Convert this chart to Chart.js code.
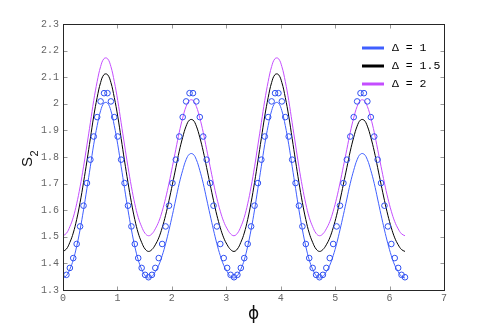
<!DOCTYPE html>
<html>
<head>
<meta charset="utf-8">
<script src="https://cdn.jsdelivr.net/npm/chart.js@4.4.0/dist/chart.umd.min.js"></script>
<style>
  html, body { margin: 0; padding: 0; background: #fff; }
  canvas { display: block; }
</style>
</head>
<body>
<canvas id="entropyChart" width="491" height="327"></canvas>
<script>
// phi grid (2*pi/100 steps)
const phi = [
  0, 0.063, 0.126, 0.188, 0.251, 0.314, 0.377, 0.440, 0.503, 0.565, 0.628, 0.691, 0.754, 0.817, 0.880, 0.942, 1.005, 1.068, 1.131, 1.194, 1.257, 1.319, 1.382, 1.445, 1.508,
  1.571, 1.634, 1.696, 1.759, 1.822, 1.885, 1.948, 2.011, 2.073, 2.136, 2.199, 2.262, 2.325, 2.388, 2.450, 2.513, 2.576, 2.639, 2.702, 2.765, 2.827, 2.890, 2.953, 3.016, 3.079,
  3.142, 3.204, 3.267, 3.330, 3.393, 3.456, 3.519, 3.581, 3.644, 3.707, 3.770, 3.833, 3.896, 3.958, 4.021, 4.084, 4.147, 4.210, 4.273, 4.335, 4.398, 4.461, 4.524, 4.587, 4.650,
  4.712, 4.775, 4.838, 4.901, 4.964, 5.027, 5.089, 5.152, 5.215, 5.278, 5.341, 5.404, 5.466, 5.529, 5.592, 5.655, 5.718, 5.781, 5.843, 5.906, 5.969, 6.032, 6.095, 6.158, 6.220,
  6.283
];

// S2 for delta = 1
const s2Delta1 = [
  1.345, 1.354, 1.378, 1.413, 1.464, 1.527, 1.601, 1.682, 1.765, 1.848, 1.918, 1.974, 2.003, 2.003, 1.974, 1.918, 1.848, 1.765, 1.682, 1.601, 1.527, 1.464, 1.413, 1.378, 1.354,
  1.345, 1.351, 1.369, 1.393, 1.429, 1.474, 1.526, 1.583, 1.642, 1.701, 1.750, 1.790, 1.811, 1.811, 1.790, 1.750, 1.701, 1.642, 1.583, 1.526, 1.474, 1.429, 1.393, 1.369, 1.351,
  1.345, 1.354, 1.378, 1.413, 1.464, 1.527, 1.601, 1.682, 1.765, 1.848, 1.918, 1.974, 2.003, 2.003, 1.974, 1.918, 1.848, 1.765, 1.682, 1.601, 1.527, 1.464, 1.413, 1.378, 1.354,
  1.345, 1.351, 1.369, 1.393, 1.429, 1.474, 1.526, 1.583, 1.642, 1.701, 1.750, 1.790, 1.811, 1.811, 1.790, 1.750, 1.701, 1.642, 1.583, 1.526, 1.474, 1.429, 1.393, 1.369, 1.351,
  1.345
];

// S2 for delta = 1.5
const s2Delta15 = [
  1.445, 1.454, 1.479, 1.514, 1.565, 1.629, 1.704, 1.785, 1.870, 1.954, 2.024, 2.080, 2.110, 2.110, 2.080, 2.024, 1.954, 1.870, 1.785, 1.704, 1.629, 1.565, 1.514, 1.479, 1.454,
  1.445, 1.452, 1.470, 1.496, 1.534, 1.581, 1.637, 1.698, 1.760, 1.822, 1.874, 1.916, 1.939, 1.939, 1.916, 1.874, 1.822, 1.760, 1.698, 1.637, 1.581, 1.534, 1.496, 1.470, 1.452,
  1.445, 1.454, 1.479, 1.514, 1.565, 1.629, 1.704, 1.785, 1.870, 1.954, 2.024, 2.080, 2.110, 2.110, 2.080, 2.024, 1.954, 1.870, 1.785, 1.704, 1.629, 1.565, 1.514, 1.479, 1.454,
  1.445, 1.452, 1.470, 1.496, 1.534, 1.581, 1.637, 1.698, 1.760, 1.822, 1.874, 1.916, 1.939, 1.939, 1.916, 1.874, 1.822, 1.760, 1.698, 1.637, 1.581, 1.534, 1.496, 1.470, 1.452,
  1.445
];

// S2 for delta = 2
const s2Delta2 = [
  1.504, 1.513, 1.538, 1.573, 1.624, 1.688, 1.763, 1.845, 1.929, 2.013, 2.084, 2.140, 2.170, 2.170, 2.140, 2.084, 2.013, 1.929, 1.845, 1.763, 1.688, 1.624, 1.573, 1.538, 1.513,
  1.504, 1.511, 1.530, 1.557, 1.596, 1.645, 1.702, 1.765, 1.829, 1.893, 1.947, 1.990, 2.013, 2.013, 1.990, 1.947, 1.893, 1.829, 1.765, 1.702, 1.645, 1.596, 1.557, 1.530, 1.511,
  1.504, 1.513, 1.538, 1.573, 1.624, 1.688, 1.763, 1.845, 1.929, 2.013, 2.084, 2.140, 2.170, 2.170, 2.140, 2.084, 2.013, 1.929, 1.845, 1.763, 1.688, 1.624, 1.573, 1.538, 1.513,
  1.504, 1.511, 1.530, 1.557, 1.596, 1.645, 1.702, 1.765, 1.829, 1.893, 1.947, 1.990, 2.013, 2.013, 1.990, 1.947, 1.893, 1.829, 1.765, 1.702, 1.645, 1.596, 1.557, 1.530, 1.511,
  1.504
];

// circle markers (no marker at phi = 0)
const s2Markers = [
  null,
  1.357, 1.383, 1.420, 1.473, 1.539, 1.617, 1.702, 1.790, 1.877, 1.950, 2.009, 2.040, 2.040, 2.009, 1.950, 1.877, 1.790, 1.702, 1.617, 1.539, 1.473, 1.420, 1.383, 1.357, 1.348,
  1.357, 1.383, 1.420, 1.473, 1.539, 1.617, 1.702, 1.790, 1.877, 1.950, 2.009, 2.040, 2.040, 2.009, 1.950, 1.877, 1.790, 1.702, 1.617, 1.539, 1.473, 1.420, 1.383, 1.357, 1.348,
  1.357, 1.383, 1.420, 1.473, 1.539, 1.617, 1.702, 1.790, 1.877, 1.950, 2.009, 2.040, 2.040, 2.009, 1.950, 1.877, 1.790, 1.702, 1.617, 1.539, 1.473, 1.420, 1.383, 1.357, 1.348,
  1.357, 1.383, 1.420, 1.473, 1.539, 1.617, 1.702, 1.790, 1.877, 1.950, 2.009, 2.040, 2.040, 2.009, 1.950, 1.877, 1.790, 1.702, 1.617, 1.539, 1.473, 1.420, 1.383, 1.357, 1.348
];

const legendLabels = ['\u0394 = 1', '\u0394 = 1.5', '\u0394 = 2'];
const xTickValues = [0, 1, 2, 3, 4, 5, 6, 7];
const yTickValues = [1.3, 1.4, 1.5, 1.6, 1.7, 1.8, 1.9, 2.0, 2.1, 2.2, 2.3];
const yTickLabels = ['1.3', '1.4', '1.5', '1.6', '1.7', '1.8', '1.9', '2', '2.1', '2.2', '2.3'];

const BLUE = '#3f5fff';
const MAGENTA = '#c44dff';
const TICK_FONT = { family: '"Liberation Mono", "DejaVu Sans Mono", monospace', size: 10 };

function toPoints(ys) {
  return ys.map((y, i) => ({ x: phi[i], y: y }));
}

// box, inside ticks, legend and axis titles (matlab look)
const matlabFrame = {
  id: 'matlabFrame',
  afterDraw(chart) {
    const ctx = chart.ctx;
    const a = chart.chartArea;
    const xs = chart.scales.x, ys = chart.scales.y;
    const L = Math.round(a.left) + 0.5, R = Math.round(a.right) + 0.5;
    const T = Math.round(a.top) + 0.5, B = Math.round(a.bottom) + 0.5;
    ctx.save();

    // ticks
    ctx.strokeStyle = '#999';
    ctx.lineWidth = 1;
    ctx.beginPath();
    xTickValues.forEach(v => {
      const px = Math.round(xs.getPixelForValue(v)) + 0.5;
      ctx.moveTo(px, B); ctx.lineTo(px, B - 4);
      ctx.moveTo(px, T); ctx.lineTo(px, T + 4);
    });
    yTickValues.forEach(v => {
      const py = Math.round(ys.getPixelForValue(v)) + 0.5;
      ctx.moveTo(L, py); ctx.lineTo(L + 4, py);
      ctx.moveTo(R, py); ctx.lineTo(R - 4, py);
    });
    ctx.stroke();

    // box
    ctx.strokeStyle = '#262626';
    ctx.strokeRect(L, T, R - L, B - T);

    // legend
    const ds = chart.data.datasets.filter(d => d.showLine !== false);
    ctx.font = '11.5px "Liberation Mono", "DejaVu Sans Mono", monospace';
    ctx.textBaseline = 'middle';
    ctx.textAlign = 'left';
    ds.forEach((d, i) => {
      const y = 48 + i * 18;
      ctx.strokeStyle = d.borderColor;
      ctx.lineWidth = 3;
      ctx.beginPath();
      ctx.moveTo(362, y); ctx.lineTo(384, y);
      ctx.stroke();
      ctx.fillStyle = '#000';
      ctx.fillText(legendLabels[i], 392, y);
    });

    // x title
    ctx.fillStyle = '#111';
    ctx.textAlign = 'center';
    ctx.font = '17px "DejaVu Sans", sans-serif';
    ctx.fillText('\u03D5', 253.5, 315);

    // y title S_2
    ctx.translate(32, 167);
    ctx.rotate(-Math.PI / 2);
    ctx.textAlign = 'left';
    ctx.textBaseline = 'alphabetic';
    ctx.font = '15px "Liberation Sans", Arial, sans-serif';
    ctx.fillText('S', 0, 0);
    ctx.font = '11px "Liberation Sans", Arial, sans-serif';
    ctx.fillText('2', 10.5, 6);
    ctx.restore();
  }
};

new Chart(document.getElementById('entropyChart'), {
  type: 'line',
  data: {
    datasets: [
      {
        label: 'markers',
        data: toPoints(s2Markers),
        showLine: false,
        pointStyle: 'circle',
        pointRadius: 2.8,
        pointBorderWidth: 1,
        borderColor: '#3050f0',
        backgroundColor: 'rgba(0,0,0,0)',
        order: 0
      },
      {
        label: legendLabels[0],
        data: toPoints(s2Delta1),
        borderColor: BLUE,
        borderWidth: 1,
        pointRadius: 0,
        tension: 0.4,
        order: 1
      },
      {
        label: legendLabels[1],
        data: toPoints(s2Delta15),
        borderColor: '#000000',
        borderWidth: 1,
        pointRadius: 0,
        tension: 0.4,
        order: 2
      },
      {
        label: legendLabels[2],
        data: toPoints(s2Delta2),
        borderColor: MAGENTA,
        borderWidth: 1,
        pointRadius: 0,
        tension: 0.4,
        order: 3
      }
    ]
  },
  options: {
    responsive: false,
    animation: false,
    devicePixelRatio: 1,
    layout: { padding: { top: 24, right: 47, left: 0, bottom: 0 } },
    plugins: {
      legend: { display: false },
      tooltip: { enabled: false }
    },
    scales: {
      x: {
        type: 'linear',
        min: 0,
        max: 7,
        afterBuildTicks: s => { s.ticks = xTickValues.map(v => ({ value: v })); },
        ticks: { color: '#666', font: TICK_FONT, padding: 2, maxRotation: 0, callback: v => String(v) },
        grid: { display: false, drawTicks: false },
        border: { display: false },
        afterFit: s => { s.height = 37; }
      },
      y: {
        type: 'linear',
        min: 1.3,
        max: 2.3,
        afterBuildTicks: s => { s.ticks = yTickValues.map(v => ({ value: v })); },
        ticks: {
          color: '#666',
          font: TICK_FONT,
          padding: 4,
          callback: (v, i) => yTickLabels[i]
        },
        grid: { display: false, drawTicks: false },
        border: { display: false },
        afterFit: s => { s.width = 63; }
      }
    }
  },
  plugins: [matlabFrame]
});
</script>
</body>
</html>
